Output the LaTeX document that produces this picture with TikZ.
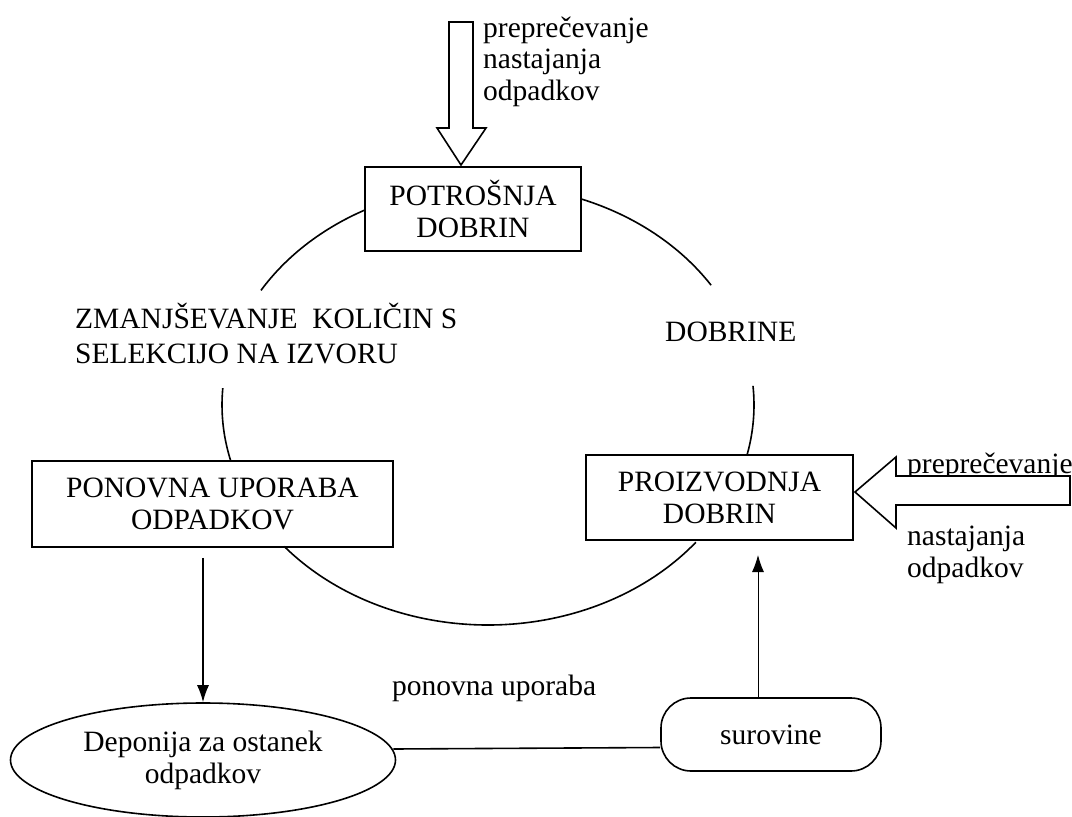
\documentclass[tikz,border=0pt]{standalone}
\usepackage{fontspec}
\setmainfont{Liberation Serif}
\usetikzlibrary{calc,arrows.meta,shapes.geometric}
\begin{document}
\begin{tikzpicture}[x=1pt,y=-1pt,
  txt/.style={font=\fontsize{29.5}{31.5}\selectfont, inner sep=0pt},
  box/.style={draw, line width=1.6pt, font=\fontsize{29.5}{32}\selectfont, align=center, inner sep=0pt},
  cyc/.style={line width=1.6pt},
  hollow/.style={draw, line width=1.6pt, fill=white, line join=miter},
  arr/.style={-{Latex[length=17pt,width=12pt]}}
]
\useasboundingbox[fill=white] (0,0) rectangle (1072,817);

% boxes
\node[box, minimum width=216pt, minimum height=84pt] (pot) at (473,209) {POTROŠNJA\\DOBRIN};
\node[box, minimum width=361pt, minimum height=86pt] (pon) at (212.5,504) {PONOVNA UPORABA\\ODPADKOV};
\node[box, minimum width=267pt, minimum height=85pt] (pro) at (719.5,497.5) {PROIZVODNJA\\DOBRIN};
\node[draw, ellipse, line width=1.6pt, minimum width=385pt, minimum height=114pt, inner sep=0pt,
      font=\fontsize{29.5}{32}\selectfont, align=center] (dep) at (203,760) {Deponija za ostanek\\odpadkov};
\node[draw, rounded corners=30pt, line width=1.6pt, minimum width=220pt, minimum height=73pt, inner sep=0pt,
      font=\fontsize{29.5}{32}\selectfont] (sur) at (771,734.5) {surovine};

% labels (base anchor = baseline of the last line)
\node[txt, anchor=base west, align=left] (l1) at (483,100) {preprečevanje\\nastajanja\\odpadkov};
\node[txt, anchor=base west] (l2a) at (907,473) {preprečevanje};
\node[txt, anchor=base west, align=left, font=\fontsize{29.5}{32}\selectfont] (l2b) at (907,577) {nastajanja\\odpadkov};
\node[txt, anchor=base west, align=left, font=\fontsize{29.5}{35}\selectfont] (zm) at (75,363) {ZMANJŠEVANJE\ \ KOLIČIN S\\SELEKCIJO NA IZVORU};
\node[txt, anchor=base west] (dobr) at (665,341) {DOBRINE};
\node[txt, anchor=base west] (pu) at (392,695) {ponovna uporaba};

% cycle arcs
\coordinate (c) at (488,405);
\draw[cyc] ($(c)+(242.5:266 and 220)$) arc[start angle=242.5, end angle=211.4, x radius=266, y radius=220];
\draw[cyc] ($(c)+(184.4:266 and 220)$) arc[start angle=184.4, end angle=165.5, x radius=266, y radius=220];
\draw[cyc] ($(c)+(140:266 and 220)$) arc[start angle=140, end angle=38.6, x radius=266, y radius=220];
\draw[cyc] ($(c)+(13:266 and 220)$) arc[start angle=13, end angle=-5, x radius=266, y radius=220];
\draw[cyc] ($(c)+(-33:266 and 220)$) arc[start angle=-33, end angle=-69.5, x radius=266, y radius=220];

% hollow arrows
\draw[hollow] (449,22) -- (473,22) -- (473,128) -- (486,128) -- (461,165) -- (437,128) -- (449,128) -- cycle;
\draw[hollow] (1070,476) -- (896,476) -- (896,457) -- (855,492) -- (896,528) -- (896,505) -- (1070,505) -- cycle;

% connectors
\draw[arr, line width=1.4pt] (pon.south -| dep.north) ++(0,10) -- (dep.north);
\coordinate (upend) at (758,555);
\draw[arr, line width=0.9pt] (sur.north -| upend) -- (upend);
\draw[line width=1.6pt] ($(dep.east)+(-3,-11)$) -- ($(sur.west)+(0,13)$);
\end{tikzpicture}
\end{document}
